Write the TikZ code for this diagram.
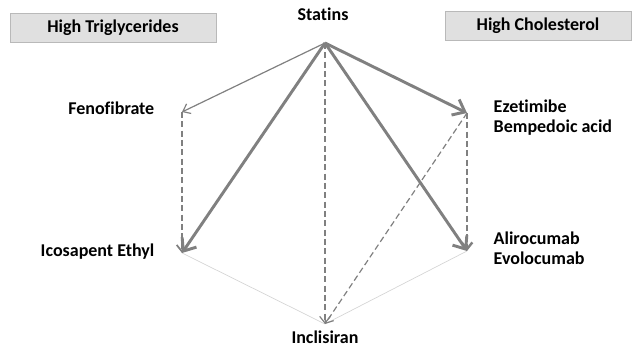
\documentclass[tikz,border=0pt]{standalone}
\usepackage{fontspec}
\setmainfont{Carlito}[Ligatures=NoCommon]
\usetikzlibrary{arrows.meta,positioning}
\definecolor{arrowgray}{RGB}{128,128,128}
\definecolor{linkgray}{RGB}{212,212,212}
\definecolor{boxgray}{RGB}{224,224,224}
\begin{document}
\begin{tikzpicture}[x=0.75pt,y=-0.75pt,font=\bfseries\fontsize{13.5}{15}\selectfont,
    thickarrow/.style={draw=arrowgray,line width=2.2pt,-{Straight Barb[length=8pt,width=13pt]}},
    thinarrow/.style={draw=arrowgray,line width=0.9pt,-{Straight Barb[length=5pt,width=8pt]}},
    dasharrow/.style={thinarrow,dash pattern=on 4.5pt off 2.5pt},
    link/.style={draw=linkgray,line width=0.5pt},
    groupbox/.style={draw=gray!55,fill=boxgray,minimum height=21.75pt,inner sep=0pt}]
    \useasboundingbox (0,0) rectangle (635,348);
    % corners
    \coordinate (statins) at (325,43);
    \coordinate (feno) at (182,112);
    \coordinate (icosa) at (182,253);
    \coordinate (ezet) at (467,113);
    \coordinate (aliro) at (467,251);
    \coordinate (incl) at (325,324);
    % groups
    \node[groupbox,minimum width=154.5pt] (trig) at (113,27.5) {High Triglycerides};
    \node[groupbox,minimum width=139.5pt] (chol) at (538,26) {High Cholesterol};
    % labels
    \node (statinslabel) at (323,14) {Statins};
    \node[anchor=east] (fenolabel) at (159,108) {Fenofibrate};
    \node[anchor=east] (icosalabel) at (159,252) {Icosapent Ethyl};
    \node[anchor=west,align=left] (ezetlabel) at (489,118) {Ezetimibe\\Bempedoic acid};
    \node[anchor=west,align=left] (alirolabel) at (489,248) {Alirocumab\\Evolocumab};
    \node[anchor=base,inner sep=0pt] (incllabel) at (325,344) {Inclisiran};
    % links
    \draw[link] (icosa) -- (incl) -- (aliro);
    \draw[thinarrow] (statins) -- (feno);
    \draw[thickarrow] (statins) -- (icosa);
    \draw[thickarrow] (statins) -- (ezet);
    \draw[thickarrow] (statins) -- (aliro);
    \draw[dasharrow] (statins) -- (incl);
    \draw[dasharrow,line width=1.3pt] (feno) -- (icosa);
    \draw[dasharrow,line width=1.8pt] (ezet) -- (aliro);
    \draw[dasharrow] (ezet) -- (incl);
\end{tikzpicture}
\end{document}
